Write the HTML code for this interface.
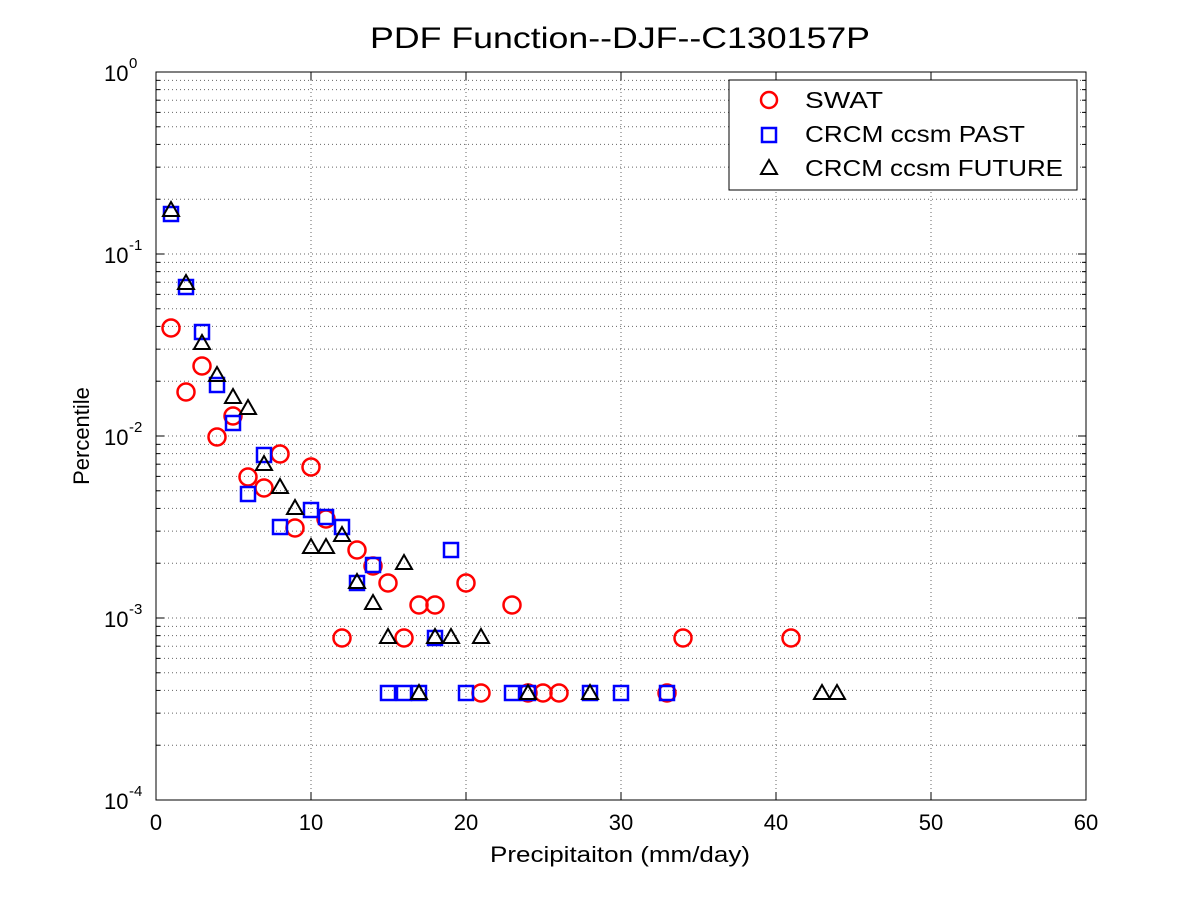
<!DOCTYPE html>
<html><head><meta charset="utf-8"><style>html,body{margin:0;padding:0;background:#fff}svg{display:block}text{font-family:"Liberation Sans",sans-serif}</style></head>
<body>
<svg id="s" width="1200" height="900" xmlns="http://www.w3.org/2000/svg">
<rect width="1200" height="900" fill="#fff"/>
<g id="grid" stroke="#000" stroke-width="1" stroke-dasharray="1,3" opacity="0.6"></g>
<rect x="156" y="72" width="930" height="728" fill="none" stroke="#000"/>
<g id="ticks" stroke="#000"></g>
<g id="lab" font-size="22" fill="#000"></g>
<g id="pts" fill="none" stroke-width="2.5"></g>
<text x="370" y="48" font-size="30" textLength="500" lengthAdjust="spacingAndGlyphs">PDF Function--DJF--C130157P</text>
<text x="490" y="862" font-size="22" textLength="260" lengthAdjust="spacingAndGlyphs">Precipitaiton (mm/day)</text>
<text transform="translate(89,436) rotate(-90)" font-size="22" text-anchor="middle">Percentile</text>
<rect x="729" y="80" width="348" height="110" fill="#fff" stroke="#000"/>
<circle cx="769" cy="100" r="8" fill="none" stroke="#f00" stroke-width="2.5"/>
<rect x="762" y="128" width="14" height="14" fill="none" stroke="#00f" stroke-width="2.5"/>
<polygon points="769,160 777,174 761,174" fill="none" stroke="#000" stroke-width="2"/>
<text x="805" y="108" font-size="23" textLength="78" lengthAdjust="spacingAndGlyphs">SWAT</text>
<text x="805" y="142" font-size="23" textLength="220" lengthAdjust="spacingAndGlyphs">CRCM ccsm PAST</text>
<text x="805" y="176" font-size="23" textLength="258" lengthAdjust="spacingAndGlyphs">CRCM ccsm FUTURE</text>
</svg>
<script>
var N="http://www.w3.org/2000/svg";
function el(p,t,a,txt){var e=document.createElementNS(N,t);for(var k in a)e.setAttribute(k,a[k]);if(txt!==undefined)e.textContent=txt;document.getElementById(p).appendChild(e);return e;}
var X0=156,X1=1086,Y0=72,D=182;
for(var i=1;i<6;i++){var x=X0+i*155;el('grid','line',{x1:x,y1:Y0,x2:x,y2:800});}
for(var d=0;d<4;d++){for(var m=2;m<=10;m++){var y=Y0+D*(d+1)-Math.log10(m)*D;if(m==10&&d==0)continue;el('grid','line',{x1:X0,y1:y,x2:X1,y2:y});
var L=(m==10)?8:4;el('ticks','line',{x1:X0,y1:y,x2:X0+L,y2:y});el('ticks','line',{x1:X1,y1:y,x2:X1-L,y2:y});}}
for(var i=0;i<=6;i++){var x=X0+i*155;el('ticks','line',{x1:x,y1:800,x2:x,y2:792});el('ticks','line',{x1:x,y1:72,x2:x,y2:80});
el('lab','text',{x:x,y:830,'text-anchor':'middle'},String(i*10));}
for(var d=0;d<=4;d++){var y=Y0+d*D;el('lab','text',{x:104,y:y+9},'10');
el('lab','text',{x:129,y:y-4,'font-size':15},d==0?'0':'-'+d);}
var C=[[171,328],[186,392],[202,366],[217,437],[233,416],[248,477],[264,488],[280,454],[295,528],[311,467],[326,519],[342,638],[357,550],[373,566],[388,583],[404,638],[419,605],[435,605],[466,583],[481,693],[512,605],[528,693],[543,693],[559,693],[667,693],[683,638],[791,638]];
var S=[[171,214],[186,287],[202,332],[217,385],[233,423],[248,494],[264,455],[280,527],[311,510],[326,517],[342,527],[357,583],[373,565],[388,693],[404,693],[419,693],[435,638],[451,550],[466,693],[512,693],[528,693],[590,693],[621,693],[667,693]];
var T=[[171,210],[186,283],[202,343],[217,375],[233,397],[248,408],[264,464],[280,487],[295,508],[311,547],[326,547],[342,535],[357,582],[373,603],[388,637],[404,563],[419,693],[435,637],[451,637],[481,637],[528,693],[590,693],[822,693],[837,693]];
C.forEach(function(p){el('pts','circle',{cx:p[0],cy:p[1],r:8.5,stroke:'#f00'});});
S.forEach(function(p){el('pts','rect',{x:p[0]-7,y:p[1]-7,width:14,height:14,stroke:'#00f'});});
T.forEach(function(p){el('pts','polygon',{points:(p[0])+','+(p[1]-8)+' '+(p[0]+8)+','+(p[1]+6)+' '+(p[0]-8)+','+(p[1]+6),stroke:'#000','stroke-width':2});});
</script>
</body></html>
